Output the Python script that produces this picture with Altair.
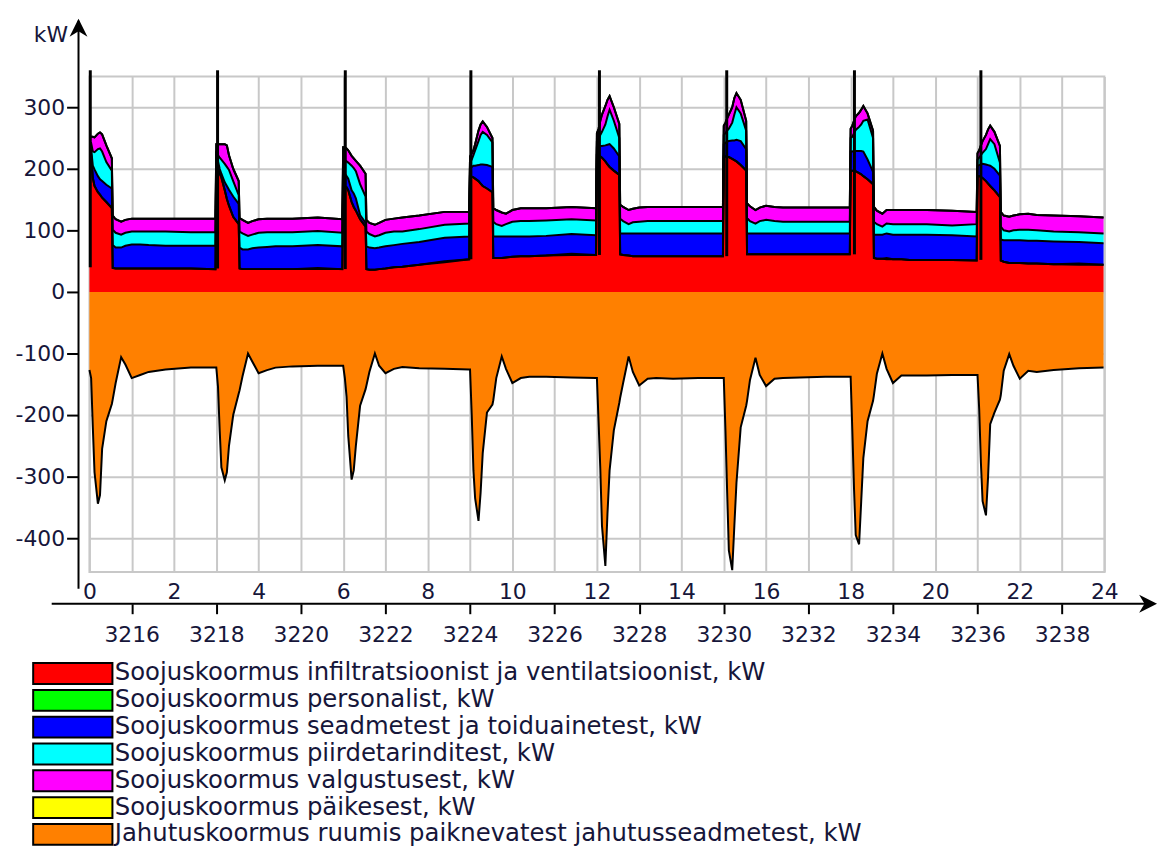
import altair as alt
import pandas as pd

SERIES = [
    "Soojuskoormus infiltratsioonist ja ventilatsioonist, kW",
    "Soojuskoormus personalist, kW",
    "Soojuskoormus seadmetest ja toiduainetest, kW",
    "Soojuskoormus piirdetarinditest, kW",
    "Soojuskoormus valgustusest, kW",
    "Soojuskoormus päikesest, kW",
    "Jahutuskoormus ruumis paiknevatest jahutusseadmetest, kW",
]
COLORS = ["#ff0000", "#00ff00", "#0000ff", "#00ffff", "#ff00ff", "#ffff00", "#ff8000"]

# time stamps: start of each 3-hour cycle and sample offsets within a cycle (hours)
CYCLE_START = [0, 3, 6, 9, 12, 15, 18, 21]
OFFSETS = [0.00, 0.04, 0.08, 0.12, 0.20, 0.25, 0.30, 0.40, 0.53, 0.55,
           0.62, 0.75, 0.85, 1.00, 1.20, 1.40, 1.80, 2.40, 2.98]

# one row per cycle, one value per offset (kW)
RED = [
    [224, 224, 185, 172, 162, 158, 153, 146, 136, 39, 38, 38, 38, 38, 38, 38, 38, 38, 37],
    [200, 200, 192, 186, 165, 151, 140, 122, 110, 38, 37, 37, 37, 37, 37, 37, 37, 37, 37],
    [175, 172, 170, 165, 146, 138, 132, 118, 106, 37, 36, 36, 37, 38, 40, 41, 44, 48, 53],
    [188, 187, 186, 184, 180, 176, 172, 168, 162, 55, 55, 55, 56, 57, 58, 58, 59, 60, 60],
    [222, 221, 220, 218, 212, 207, 203, 197, 190, 61, 60, 59, 58, 58, 58, 58, 58, 58, 58],
    [220, 220, 219, 219, 216, 214, 212, 206, 197, 61, 61, 61, 61, 61, 61, 61, 61, 61, 61],
    [197, 197, 196, 196, 193, 191, 188, 183, 175, 55, 54, 54, 53, 53, 53, 52, 52, 52, 51],
    [188, 188, 187, 185, 180, 176, 172, 165, 154, 51, 49, 47, 47, 47, 46, 46, 45, 44, 44],
]
GREEN = [
    [0, 0, 0, 0, 0, 0, 0, 0, 0, 0, 0, 0, 0, 0, 0, 0, 0, 0, 0],
    [0, 0, 0, 0, 0, 0, 0, 0, 0, 0, 0, 0, 0, 0, 0, 0, 0, 2, 0],
    [0, 0, 0, 0, 0, 0, 0, 0, 0, 0, 0, 0, 0, 0, 0, 0, 0, 2, 0],
    [0, 0, 0, 0, 0, 0, 0, 0, 0, 0, 0, 0, 0, 0, 0, 0, 0, 2, 0],
    [0, 0, 0, 0, 0, 0, 0, 0, 0, 0, 0, 0, 0, 0, 0, 0, 0, 0, 0],
    [0, 0, 0, 0, 0, 0, 0, 0, 0, 0, 0, 0, 0, 0, 0, 0, 0, 0, 0],
    [0, 0, 0, 0, 0, 0, 0, 0, 0, 0, 0, 0, 2, 0, 0, 0, 0, 0, 0],
    [0, 0, 0, 0, 0, 0, 0, 0, 0, 0, 0, 0, 0, 0, 0, 0, 0, 2, 0],
]
BLUE = [
    [8, 8, 20, 27, 26, 25, 27, 28, 32, 37, 34, 34, 37, 39, 39, 38, 37, 37, 38],
    [15, 12, 8, 6, 13, 21, 26, 33, 33, 34, 32, 32, 34, 35, 36, 37, 37, 37, 37],
    [20, 20, 18, 19, 19, 22, 20, 7, 6, 37, 36, 35, 35, 36, 36, 37, 37, 38, 37],
    [12, 16, 19, 21, 26, 31, 35, 38, 41, 35, 35, 35, 34, 33, 32, 32, 32, 32, 32],
    [13, 15, 17, 19, 26, 32, 37, 36, 30, 34, 35, 36, 37, 37, 37, 37, 37, 37, 37],
    [20, 22, 25, 26, 30, 32, 35, 39, 35, 34, 34, 34, 34, 34, 34, 34, 34, 34, 34],
    [31, 31, 33, 33, 36, 38, 40, 32, 20, 38, 39, 39, 40, 40, 40, 41, 41, 40, 39],
    [17, 18, 20, 23, 27, 30, 33, 35, 35, 34, 35, 37, 37, 37, 37, 37, 37, 35, 35],
]
CYAN = [
    [10, 10, 23, 28, 44, 50, 48, 37, 29, 25, 24, 21, 21, 21, 21, 22, 23, 22, 22],
    [10, 10, 18, 23, 30, 31, 32, 25, 14, 26, 26, 22, 22, 24, 24, 23, 23, 23, 22],
    [20, 22, 24, 26, 40, 41, 44, 50, 43, 24, 22, 19, 20, 22, 22, 20, 21, 21, 21],
    [10, 12, 17, 25, 39, 48, 53, 49, 40, 24, 20, 17, 20, 24, 25, 25, 25, 24, 24],
    [10, 12, 18, 23, 34, 46, 56, 45, 30, 24, 20, 15, 18, 19, 20, 20, 20, 20, 20],
    [15, 16, 18, 20, 29, 42, 53, 45, 30, 25, 20, 16, 20, 22, 20, 19, 19, 19, 19],
    [22, 24, 29, 34, 39, 43, 50, 65, 55, 21, 17, 13, 16, 17, 17, 17, 17, 16, 20],
    [10, 12, 15, 18, 25, 34, 43, 40, 21, 21, 16, 14, 16, 17, 18, 17, 16, 16, 16],
]
MAGENTA = [
    [8, 10, 24, 24, 25, 26, 28, 27, 20, 23, 22, 21, 21, 21, 21, 21, 21, 22, 22],
    [15, 18, 22, 25, 32, 35, 24, 20, 23, 22, 22, 21, 22, 22, 22, 22, 22, 22, 22],
    [20, 21, 21, 20, 16, 16, 17, 30, 37, 19, 18, 19, 20, 21, 21, 23, 22, 21, 19],
    [10, 10, 8, 10, 17, 17, 17, 13, 7, 22, 23, 22, 17, 19, 21, 21, 20, 20, 20],
    [13, 17, 23, 28, 30, 27, 22, 22, 23, 23, 23, 23, 22, 23, 23, 23, 23, 23, 23],
    [15, 17, 20, 23, 25, 27, 23, 22, 16, 24, 24, 22, 22, 23, 23, 23, 23, 23, 23],
    [15, 18, 20, 22, 23, 24, 24, 10, 12, 24, 22, 21, 22, 23, 23, 23, 23, 24, 20],
    [10, 12, 16, 19, 23, 24, 22, 20, 27, 24, 24, 24, 24, 25, 26, 25, 26, 26, 26],
]
YELLOW = [
    [0, 0, 0, 0, 0, 0, 0, 0, 0, 0, 0, 0, 0, 0, 0, 0, 0, 0, 0],
    [0, 0, 0, 0, 0, 0, 0, 0, 0, 0, 0, 0, 0, 0, 0, 0, 0, 0, 0],
    [0, 0, 0, 0, 0, 0, 0, 0, 0, 0, 0, 0, 0, 0, 0, 0, 0, 0, 0],
    [0, 0, 0, 0, 0, 0, 0, 0, 0, 0, 0, 0, 0, 0, 0, 0, 0, 0, 0],
    [0, 0, 0, 0, 0, 0, 0, 0, 0, 0, 0, 0, 0, 0, 0, 0, 0, 0, 0],
    [0, 0, 0, 0, 0, 0, 0, 0, 0, 0, 0, 0, 0, 0, 0, 0, 0, 0, 0],
    [0, 0, 0, 0, 0, 0, 0, 0, 0, 0, 0, 0, 0, 0, 0, 0, 0, 0, 0],
    [0, 0, 0, 0, 0, 0, 0, 0, 0, 0, 0, 0, 0, 0, 0, 0, 0, 0, 0],
]
ORANGE = [
    [-127, -140, -220, -293, -344, -330, -255, -210, -182, -175, -148, -106, -118, -140, -135, -130, -126, -123, -123],
    [-123, -154, -225, -285, -306, -293, -250, -200, -165, -160, -137, -100, -113, -132, -127, -123, -121, -120, -120],
    [-120, -140, -170, -234, -305, -290, -250, -185, -158, -152, -130, -100, -120, -132, -125, -122, -124, -125, -126],
    [-126, -200, -290, -335, -372, -326, -262, -196, -183, -176, -140, -105, -125, -148, -140, -138, -138, -139, -140],
    [-140, -212, -287, -380, -445, -360, -290, -225, -180, -172, -148, -105, -130, -152, -141, -140, -141, -140, -140],
    [-140, -226, -326, -420, -452, -380, -310, -220, -185, -177, -143, -107, -135, -153, -141, -140, -139, -138, -138],
    [-138, -226, -320, -395, -410, -340, -270, -210, -177, -168, -133, -100, -125, -148, -136, -136, -136, -135, -135],
    [-135, -191, -277, -340, -363, -300, -215, -196, -175, -168, -128, -101, -120, -141, -128, -130, -127, -124, -123],
]

# short black spikes at the start of every cycle
SPIKE_HOURS = [0.02, 3.03, 6.05, 9.02, 12.06, 15.07, 18.09, 21.08]
SPIKE_LOW = [40, 38, 37, 53, 60, 58, 61, 52]
SPIKE_HIGH = [360, 360, 360, 360, 360, 360, 360, 360]

Y_TICKS = [-400, -300, -200, -100, 0, 100, 200, 300]
X_TICKS = [0, 1, 2, 3, 4, 5, 6, 7, 8, 9, 10, 11, 12, 13, 14, 15, 16, 17, 18, 19, 20, 21, 22, 23, 24]
HOY_TICKS = [3216, 3218, 3220, 3222, 3224, 3226, 3228, 3230, 3232, 3234, 3236, 3238]
HOY_DOMAIN = [3215, 3239]

FONT = "DejaVu Sans"
TXT = "#16163a"
GRID = "#c8c8c8"

rows = []
for rank, (name, table) in enumerate(zip(SERIES, [RED, GREEN, BLUE, CYAN, MAGENTA, YELLOW, ORANGE])):
    for start, cyc in zip(CYCLE_START, table):
        for off, v in zip(OFFSETS, cyc):
            rows.append({"hour": round(start + off, 3), "series": name, "rank": rank, "value": v})
df = pd.DataFrame(rows)
spikes = pd.DataFrame({"hour": SPIKE_HOURS, "low": SPIKE_LOW, "high": SPIKE_HIGH})
one = pd.DataFrame({"a": [0]})


def x_enc(field):
    return alt.X(f"{field}:Q",
                 scale=alt.Scale(domain=[0, 24], nice=False, zero=False),
                 axis=alt.Axis(values=X_TICKS, orient="bottom",
                               labelExpr="datum.value % 2 == 0 ? toString(datum.value) : ''",
                               domain=False, ticks=False, tickSize=0, labelPadding=10,
                               labelFlush=False, labelOverlap=False,
                               grid=True, gridColor=GRID, gridWidth=2,
                               labelFont=FONT, labelFontSize=22, labelColor=TXT, title=None))


def y_enc(field):
    return alt.Y(f"{field}:Q",
                 scale=alt.Scale(domain=[-455, 350], nice=False, zero=False),
                 axis=alt.Axis(values=Y_TICKS, orient="left", offset=11,
                               labelExpr="toString(datum.value)",
                               domain=False, ticks=True, tickSize=12, tickWidth=2, tickColor="black",
                               labelPadding=2, labelFlush=False, labelOverlap=False,
                               grid=True, gridColor=GRID, gridWidth=2,
                               labelFont=FONT, labelFontSize=22, labelColor=TXT,
                               title="kW", titleAngle=0, titleAlign="right", titleBaseline="middle",
                               titleX=-11, titleY=-42, titleFont=FONT, titleFontSize=22,
                               titleFontWeight="normal", titleColor=TXT))


base = alt.Chart(df).transform_stack(
    stack="value", groupby=["hour"], as_=["v0", "v1"],
    sort=[alt.SortField("rank", order="ascending")], offset="zero")

area = base.mark_area(opacity=1, interpolate="linear").encode(
    x=x_enc("hour"),
    y=y_enc("v1"),
    y2="v0:Q",
    color=alt.Color("series:N",
                    scale=alt.Scale(domain=SERIES, range=COLORS),
                    legend=alt.Legend(orient="none", legendX=-29, legendY=589, title=None,
                                      direction="vertical",
                                      symbolType="M-3.8,-1H3.8V1H-3.8Z", symbolSize=441,
                                      symbolStrokeColor="black", symbolStrokeWidth=2,
                                      symbolOpacity=1,
                                      labelFont=FONT, labelFontSize=24.5, labelColor=TXT,
                                      labelLimit=2000, labelOffset=30, rowPadding=-3.5,
                                      padding=0, offset=0)),
)

lines = base.mark_line(color="black", strokeWidth=2, interpolate="linear").encode(
    x=x_enc("hour"),
    y=y_enc("v1"),
    detail="series:N",
)

spike = alt.Chart(spikes).mark_rule(color="black", strokeWidth=3).encode(
    x=x_enc("hour"),
    y=y_enc("high"),
    y2="low:Q",
)

# axis lines with arrow heads
y_line = alt.Chart(one).mark_rule(color="black", strokeWidth=2).encode(
    x=alt.value(-11), y=alt.value(-56), y2=alt.value(516))
x_line = alt.Chart(one).mark_rule(color="black", strokeWidth=2).encode(
    x=alt.value(-38), x2=alt.value(1072), y=alt.value(531))
y_arrow = alt.Chart(one).mark_point(shape="M0,-1L1,1L0,0.4L-1,1Z", filled=True, color="black",
                                    size=324, opacity=1).encode(x=alt.value(-11), y=alt.value(-49))
x_arrow = alt.Chart(one).mark_point(shape="M1,0L-1,-1L-0.4,0L-1,1Z", filled=True, color="black",
                                    size=324, opacity=1).encode(x=alt.value(1066), y=alt.value(531))

main = alt.layer(area, lines, spike, y_line, x_line, y_arrow, x_arrow)

hoy = alt.Chart(pd.DataFrame({"hoy": HOY_TICKS})).mark_point(opacity=0).encode(
    x=alt.X("hoy:Q", scale=alt.Scale(domain=HOY_DOMAIN, nice=False, zero=False),
            axis=alt.Axis(orient="bottom", offset=32, values=HOY_TICKS,
                          labelExpr="toString(datum.value)",
                          domain=False, ticks=True, tickSize=10, tickWidth=2, tickColor="black",
                          labelPadding=11, labelFlush=False, labelOverlap=False, grid=False,
                          labelFont=FONT, labelFontSize=22, labelColor=TXT, title=None)),
)

chart = alt.layer(main, hoy).resolve_scale(x="independent").properties(
    width=1022, height=499,
    autosize=alt.AutoSizeParams(type="none"),
    padding={"left": 82, "top": 66, "right": 55, "bottom": 273},
).configure_view(stroke=GRID, strokeWidth=2)

chart.save("out.html", embed_options={"renderer": "svg", "actions": False})
